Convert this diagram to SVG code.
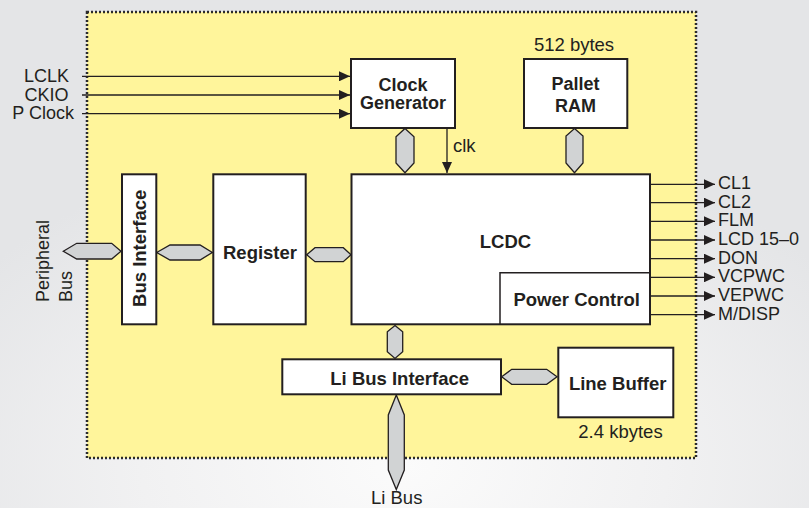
<svg xmlns="http://www.w3.org/2000/svg" width="809" height="508" viewBox="0 0 809 508">
<defs>
<radialGradient id="bg" cx="50%" cy="92%" r="65%">
<stop offset="0" stop-color="#fbfbfb"/>
<stop offset="0.5" stop-color="#f1f1f2"/>
<stop offset="1" stop-color="#e4e5e7"/>
</radialGradient>
<marker id="ah" markerUnits="userSpaceOnUse" markerWidth="12" markerHeight="10" refX="11" refY="5" orient="auto">
<path d="M0,0 L11,5 L0,10 Z" fill="#231f20"/>
</marker>
<style>
.box{fill:#fff;stroke:#231f20;stroke-width:2}
.hex{fill:#d1d3d4;stroke:#231f20;stroke-width:1.3;stroke-linejoin:miter}
.ln{fill:none;stroke:#231f20;stroke-width:1.3}
.t{font-family:"Liberation Sans",Arial,sans-serif;font-size:18px;fill:#231f20}
.b{font-family:"Liberation Sans",Arial,sans-serif;font-size:18px;font-weight:bold;fill:#231f20}
.big{font-size:18.5px}
</style>
</defs>
<rect x="0" y="0" width="809" height="508" fill="url(#bg)"/>
<rect x="87" y="12" width="609" height="446" fill="#fff59b" stroke="#2b2b2b" stroke-width="2.5" stroke-dasharray="2 2"/>

<g id="connectors">
<line class="ln" x1="82" y1="76.3" x2="350" y2="76.3" marker-end="url(#ah)"/>
<line class="ln" x1="82" y1="95" x2="350" y2="95" marker-end="url(#ah)"/>
<line class="ln" x1="82" y1="113.7" x2="350" y2="113.7" marker-end="url(#ah)"/>
<line class="ln" x1="447" y1="128" x2="447" y2="173" marker-end="url(#ah)"/>
<line class="ln" x1="650" y1="184.3" x2="715" y2="184.3" marker-end="url(#ah)"/>
<line class="ln" x1="650" y1="202.7" x2="715" y2="202.7" marker-end="url(#ah)"/>
<line class="ln" x1="650" y1="221.3" x2="715" y2="221.3" marker-end="url(#ah)"/>
<line class="ln" x1="650" y1="240" x2="715" y2="240" marker-end="url(#ah)"/>
<line class="ln" x1="650" y1="258.7" x2="715" y2="258.7" marker-end="url(#ah)"/>
<line class="ln" x1="650" y1="277.3" x2="715" y2="277.3" marker-end="url(#ah)"/>
<line class="ln" x1="650" y1="296" x2="715" y2="296" marker-end="url(#ah)"/>
<line class="ln" x1="650" y1="314.7" x2="715" y2="314.7" marker-end="url(#ah)"/>
<polygon class="hex" points="405,128.5 414,136.7 414,163 405,172.7 396,163 396,136.7"/>
<polygon class="hex" points="574.5,128.5 583,136 583,163 574.5,172.7 566,163 566,136"/>
<polygon class="hex" points="63.3,251.2 76.7,243.3 111.7,243.3 121,251.2 111.7,259 76.7,259"/>
<polygon class="hex" points="156.7,252.5 170,245 200,245 212.3,252.5 200,260 170,260"/>
<polygon class="hex" points="306.7,254.7 315,247.7 343.3,247.7 351,254.7 343.3,261.7 315,261.7"/>
<polygon class="hex" points="395,325.5 402.7,331.7 402.7,351.7 395,358.5 387.3,351.7 387.3,331.7"/>
<polygon class="hex" points="501.7,376.8 511.7,369.3 546.7,369.3 557,376.8 546.7,384.3 511.7,384.3"/>
<polygon class="hex" points="396.3,395 404.3,415 404.3,470 396.3,489.5 388.3,470 388.3,415"/>
</g>

<g id="labels">
<text class="t" x="69" y="81.7" text-anchor="end">LCLK</text>
<text class="t" x="68.5" y="100.7" text-anchor="end">CKIO</text>
<text class="t" x="74" y="119" text-anchor="end">P Clock</text>
<text class="t big" x="574" y="50.7" text-anchor="middle">512 bytes</text>
<text class="t big" x="453" y="151.7">clk</text>
<text class="t" transform="translate(48.5,302) rotate(-90)">Peripheral</text>
<text class="t" transform="translate(71.5,302) rotate(-90)">Bus</text>
<text class="t" x="718" y="189.3">CL1</text>
<text class="t" x="718" y="207.7">CL2</text>
<text class="t" x="718" y="226.3">FLM</text>
<text class="t" x="718" y="245">LCD 15–0</text>
<text class="t" x="718" y="263.7">DON</text>
<text class="t" x="718" y="282.3">VCPWC</text>
<text class="t" x="718" y="301">VEPWC</text>
<text class="t" x="718" y="319.7">M/DISP</text>
<text class="t big" x="620.5" y="437.7" text-anchor="middle">2.4 kbytes</text>
<text class="t big" x="396.7" y="503.5" text-anchor="middle">Li Bus</text>
</g>

<g id="clock-generator">
<rect class="box" x="351" y="59" width="104" height="69"/>
<text class="b" x="403" y="90.5" text-anchor="middle">Clock</text>
<text class="b" x="403" y="109" text-anchor="middle">Generator</text>
</g>
<g id="pallet-ram">
<rect class="box" x="524" y="59" width="103.3" height="69"/>
<text class="b" x="575.5" y="90" text-anchor="middle">Pallet</text>
<text class="b" x="575.5" y="111.7" text-anchor="middle">RAM</text>
</g>
<g id="bus-interface">
<rect class="box" x="122" y="174.3" width="34.3" height="150"/>
<text class="b big" transform="translate(146,248.3) rotate(-90)" text-anchor="middle">Bus Interface</text>
</g>
<g id="register">
<rect class="box" x="213.3" y="174.3" width="92.4" height="150"/>
<text class="b big" x="260" y="259" text-anchor="middle">Register</text>
</g>
<g id="lcdc">
<rect class="box" x="351.5" y="174.3" width="298.5" height="150"/>
<text class="b big" x="505.5" y="248.3" text-anchor="middle">LCDC</text>
</g>
<g id="power-control">
<path d="M500,324.3 V272.7 H650" fill="none" stroke="#231f20" stroke-width="1.5"/>
<text class="b big" x="576.7" y="306" text-anchor="middle">Power Control</text>
</g>
<g id="li-bus-interface">
<rect class="box" x="282.3" y="359.3" width="218.7" height="35"/>
<text class="b big" x="399.7" y="385" text-anchor="middle">Li Bus Interface</text>
</g>
<g id="line-buffer">
<rect class="box" x="558.3" y="347.7" width="115" height="69.6"/>
<text class="b big" x="617.7" y="390" text-anchor="middle">Line Buffer</text>
</g>
</svg>
